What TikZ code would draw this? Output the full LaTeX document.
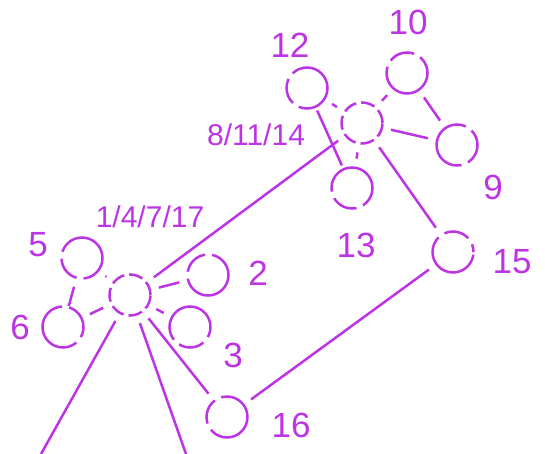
\documentclass[tikz,border=0pt]{standalone}
\usepackage{fontspec}
\setmainfont{Liberation Sans}
\usetikzlibrary{positioning}
\definecolor{violet}{RGB}{188,52,228}
\tikzstyle{ring} = [circle, draw=violet, line width=2.5pt, minimum size=41pt, inner sep=0pt, dash pattern=on 78pt off 7pt on 26pt off 7pt]
\tikzstyle{hub} = [circle, draw=violet, line width=2.5pt, minimum size=41pt, inner sep=0pt, dash pattern=on 14pt off 5pt]
\tikzstyle{tag} = [text=violet, font=\fontsize{35}{35}\selectfont, inner sep=0pt]
\tikzstyle{hubtag} = [text=violet, font=\fontsize{30}{30}\selectfont, inner sep=0pt]
\tikzstyle{line} = [draw=violet, line width=2.5pt, shorten >=8pt, shorten <=8pt]

\begin{document}
\begin{tikzpicture}[x=1pt, y=-1pt]
  \useasboundingbox (0,0) rectangle (545,454);
  % upper group
  \node (hubB) [hub] at (362,123) {};
  \node (c12) [ring, dash phase=30pt] at (307,88) {};
  \node (c10) [ring, dash phase=60pt] at (407,73) {};
  \node (c9) [ring, dash phase=95pt] at (457,145) {};
  \node (c13) [ring, dash phase=10pt] at (352,188) {};
  \node (c15) [ring, dash phase=70pt] at (453,252) {};
  % lower group
  \node (hubA) [hub] at (130,295) {};
  \node (c5) [ring, dash phase=20pt] at (82,258) {};
  \node (c2) [ring, dash phase=50pt] at (208,275) {};
  \node (c6) [ring, dash phase=85pt] at (63,327) {};
  \node (c3) [ring] at (190,327) {};
  \node (c16) [ring, dash phase=40pt] at (227,417) {};
  \coordinate (outL) at (41,454);
  \coordinate (outR) at (186,454);

  \node (l12) [tag] at (290,45) {12};
  \node (l10) [tag] at (408,22) {10};
  \node (lB) [hubtag] at (256,135) {8/11/14};
  \node (l9) [tag] at (493,187) {9};
  \node (l13) [tag] at (356,245) {13};
  \node (l15) [tag] at (512,262) {15};
  \node (lA) [hubtag] at (150,217) {1/4/7/17};
  \node (l5) [tag] at (38,245) {5};
  \node (l2) [tag] at (258,273) {2};
  \node (l6) [tag] at (20,327) {6};
  \node (l3) [tag] at (233,355) {3};
  \node (l16) [tag] at (291,425) {16};

  \draw [line] (c12) -- (hubB);
  \draw [line] (hubB) -- (c10);
  \draw [line] (c10) -- (c9);
  \draw [line] (hubB) -- (c9);
  \draw [line] (hubB) -- (c13);
  \draw [line, shorten <=3pt, shorten >=3pt] (c12) -- (c13);
  \draw [line] (hubB) -- (c15);
  \draw [line] (hubA) -- (hubB);
  \draw [line] (c15) -- (c16);
  \draw [line] (hubA) -- (c16);
  \draw [line] (hubA) -- (c5);
  \draw [line] (hubA) -- (c2);
  \draw [line] (hubA) -- (c6);
  \draw [line] (hubA) -- (c3);
  \draw [line, shorten >=0pt] (c5) -- (c6);
  \draw [line, shorten >=0pt] (hubA) -- (outL);
  \draw [line, shorten >=0pt] (hubA) -- (outR);
\end{tikzpicture}
\end{document}
